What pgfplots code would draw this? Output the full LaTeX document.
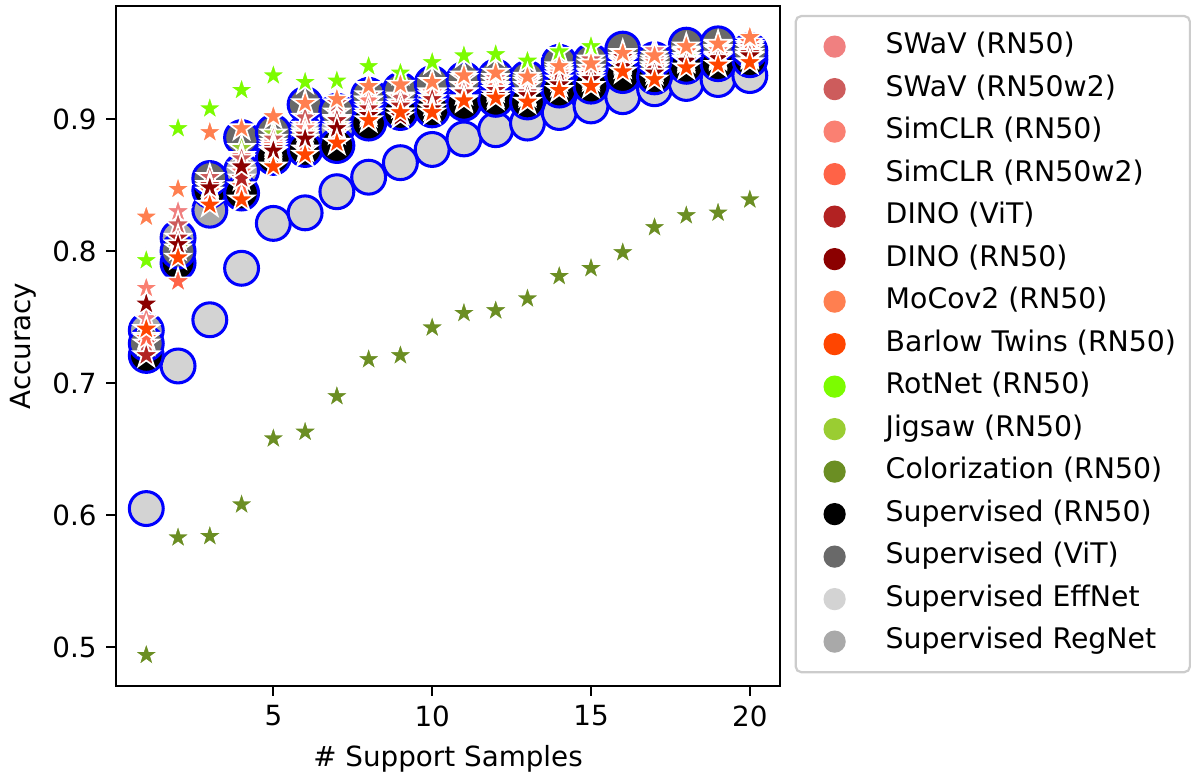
\documentclass[border=0pt]{standalone}
\usepackage{fontspec}
\setmainfont{DejaVu Sans}
\usepackage{pgfplots}
\usepackage{pgfplotstable}
\pgfplotsset{compat=1.18}

\definecolor{lightcoral}{RGB}{240,128,128}
\definecolor{indianred}{RGB}{205,92,92}
\definecolor{salmon}{RGB}{250,128,114}
\definecolor{tomato}{RGB}{255,99,71}
\definecolor{firebrick}{RGB}{178,34,34}
\definecolor{darkred}{RGB}{139,0,0}
\definecolor{coral}{RGB}{255,127,80}
\definecolor{orangered}{RGB}{255,69,0}
\definecolor{lawngreen}{RGB}{124,252,0}
\definecolor{yellowgreen}{RGB}{154,205,50}
\definecolor{olivedrab}{RGB}{107,142,35}
\definecolor{dimgray}{RGB}{105,105,105}
\definecolor{lgray}{RGB}{211,211,211}
\definecolor{dgray}{RGB}{169,169,169}
\definecolor{legframe}{RGB}{204,204,204}

\newdimen\starout
\newdimen\starin
\pgfdeclareplotmark{fstar}{%
  \starout=\pgfplotmarksize
  \starin=\pgfplotmarksize
  \starin=0.382\starin
  \pgfpathmoveto{\pgfpointpolar{90}{\starout}}%
  \pgfpathlineto{\pgfpointpolar{126}{\starin}}%
  \pgfpathlineto{\pgfpointpolar{162}{\starout}}%
  \pgfpathlineto{\pgfpointpolar{198}{\starin}}%
  \pgfpathlineto{\pgfpointpolar{234}{\starout}}%
  \pgfpathlineto{\pgfpointpolar{270}{\starin}}%
  \pgfpathlineto{\pgfpointpolar{306}{\starout}}%
  \pgfpathlineto{\pgfpointpolar{342}{\starin}}%
  \pgfpathlineto{\pgfpointpolar{18}{\starout}}%
  \pgfpathlineto{\pgfpointpolar{54}{\starin}}%
  \pgfpathclose
  \pgfusepathqfillstroke
}

% supervised (circles)
\pgfplotstableread{
x  rn50   vit    eff    reg
1  0.721  0.730  0.605  0.740
2  0.791  0.800  0.713  0.810
3  0.846  0.855  0.748  0.831
4  0.844  0.886  0.787  0.861
5  0.871  0.890  0.821  0.878
6  0.877  0.911  0.829  0.890
7  0.880  0.906  0.845  0.893
8  0.897  0.918  0.856  0.905
9  0.905  0.922  0.867  0.912
10 0.907  0.927  0.877  0.915
11 0.912  0.930  0.885  0.920
12 0.915  0.932  0.892  0.922
13 0.913  0.931  0.897  0.922
14 0.922  0.943  0.905  0.932
15 0.925  0.944  0.910  0.935
16 0.933  0.953  0.917  0.942
17 0.932  0.945  0.923  0.940
18 0.940  0.956  0.927  0.947
19 0.942  0.957  0.930  0.948
20 0.945  0.952  0.933  0.948
}\supTable

% self-supervised (stars)
\pgfplotstableread{
x  swav   swavw  simclr simclrw dinovit dinorn moco   barlow rotnet jigsaw color
1  0.749  0.730  0.772  0.734   0.721   0.760  0.826  0.741  0.793  0.735  0.494
2  0.830  0.820  0.805  0.777   0.810   0.805  0.847  0.795  0.893  0.802  0.583
3  0.850  0.856  0.848  0.845   0.850   0.848  0.890  0.835  0.908  0.845  0.584
4  0.872  0.870  0.860  0.849   0.855   0.864  0.893  0.839  0.922  0.878  0.608
5  0.882  0.885  0.880  0.875   0.878   0.876  0.902  0.864  0.933  0.889  0.658
6  0.895  0.901  0.893  0.877   0.888   0.885  0.912  0.873  0.928  0.890  0.663
7  0.905  0.912  0.900  0.890   0.899   0.893  0.915  0.882  0.929  0.895  0.690
8  0.914  0.918  0.914  0.905   0.908   0.903  0.925  0.899  0.940  0.910  0.718
9  0.912  0.916  0.910  0.905   0.910   0.902  0.926  0.905  0.935  0.917  0.721
10 0.918  0.920  0.920  0.912   0.915   0.908  0.928  0.905  0.943  0.915  0.742
11 0.925  0.931  0.925  0.920   0.920   0.915  0.933  0.914  0.948  0.920  0.753
12 0.931  0.928  0.925  0.922   0.922   0.918  0.935  0.916  0.949  0.924  0.755
13 0.928  0.930  0.925  0.920   0.920   0.918  0.932  0.913  0.944  0.920  0.764
14 0.936  0.938  0.935  0.930   0.933   0.926  0.940  0.922  0.951  0.933  0.781
15 0.932  0.945  0.938  0.935   0.934   0.930  0.942  0.925  0.955  0.935  0.787
16 0.944  0.943  0.945  0.940   0.947   0.940  0.950  0.936  0.945  0.940  0.799
17 0.952  0.945  0.943  0.940   0.938   0.935  0.948  0.930  0.940  0.938  0.818
18 0.950  0.952  0.951  0.951   0.945   0.944  0.955  0.939  0.947  0.945  0.827
19 0.952  0.953  0.952  0.956   0.948   0.946  0.957  0.941  0.948  0.947  0.829
20 0.956  0.955  0.953  0.958   0.950   0.948  0.962  0.943  0.948  0.947  0.839
}\sslTable

\newcommand{\legc}[1]{\addlegendimage{legend image code/.code={\path (0pt,0pt) (26.6pt,0pt); \fill[#1] (10.6pt,0pt) circle (3.6pt);}}}

\begin{document}
\begin{tikzpicture}
\begin{axis}[
  scale only axis,
  width=239pt, height=244.8pt,
  xmin=0.05, xmax=20.95,
  ymin=0.4705, ymax=0.9856,
  xtick={5,10,15,20},
  ytick={0.5,0.6,0.7,0.8,0.9},
  tick align=outside,
  major tick length=3.5pt,
  tick style={line width=0.8pt, black},
  axis line style={line width=0.8pt},
  xtick pos=bottom, ytick pos=left,
  ticklabel style={font=\fontsize{10}{12}\selectfont},
  yticklabel style={/pgf/number format/.cd, fixed, fixed zerofill, precision=1, assume math mode=true},
  xticklabel style={/pgf/number format/assume math mode=true},
  xlabel={\# Support Samples},
  ylabel={Accuracy},
  ylabel style={yshift=-1pt},
  label style={font=\fontsize{10}{12}\selectfont},
  legend cell align=left,
  legend style={
    at={(1.022,0.987)}, anchor=north west,
    draw=legframe, line width=0.8pt, rounded corners=2pt,
    inner xsep=3pt, inner ysep=4pt,
    row sep=1.3pt,
    font=\fontsize{10.2}{12}\selectfont,
    nodes={inner sep=2pt, text height=7.5pt, text depth=2.5pt},
  },
]
\legc{lightcoral}\addlegendentry{SWaV (RN50)}
\legc{indianred}\addlegendentry{SWaV (RN50w2)}
\legc{salmon}\addlegendentry{SimCLR (RN50)}
\legc{tomato}\addlegendentry{SimCLR (RN50w2)}
\legc{firebrick}\addlegendentry{DINO (ViT)}
\legc{darkred}\addlegendentry{DINO (RN50)}
\legc{coral}\addlegendentry{MoCov2 (RN50)}
\legc{orangered}\addlegendentry{Barlow Twins (RN50)}
\legc{lawngreen}\addlegendentry{RotNet (RN50)}
\legc{yellowgreen}\addlegendentry{Jigsaw (RN50)}
\legc{olivedrab}\addlegendentry{Colorization (RN50)}
\legc{black}\addlegendentry{Supervised (RN50)}
\legc{dimgray}\addlegendentry{Supervised (ViT)}
\legc{lgray}\addlegendentry{Supervised EffNet}
\legc{dgray}\addlegendentry{Supervised RegNet}

\pgfplotsset{
  circ/.style={only marks, forget plot, mark=*, mark size=6.1pt, mark options={draw=blue, line width=1.1pt, fill=#1}},
  strm/.style={only marks, forget plot, mark=fstar, mark size=4.8pt, mark options={draw=white, line width=0.6pt, fill=#1}},
}
\addplot[circ=lgray] table[x=x, y=eff] {\supTable};
\addplot[circ=dgray] table[x=x, y=reg] {\supTable};
\addplot[circ=black] table[x=x, y=rn50] {\supTable};
\addplot[circ=dimgray] table[x=x, y=vit] {\supTable};

\addplot[strm=lawngreen] table[x=x, y=rotnet] {\sslTable};
\addplot[strm=yellowgreen] table[x=x, y=jigsaw] {\sslTable};
\addplot[strm=olivedrab] table[x=x, y=color] {\sslTable};
\addplot[strm=lightcoral] table[x=x, y=swav] {\sslTable};
\addplot[strm=indianred] table[x=x, y=swavw] {\sslTable};
\addplot[strm=salmon] table[x=x, y=simclr] {\sslTable};
\addplot[strm=tomato] table[x=x, y=simclrw] {\sslTable};
\addplot[strm=firebrick] table[x=x, y=dinovit] {\sslTable};
\addplot[strm=darkred] table[x=x, y=dinorn] {\sslTable};
\addplot[strm=coral] table[x=x, y=moco] {\sslTable};
\addplot[strm=orangered] table[x=x, y=barlow] {\sslTable};
\end{axis}
\path[use as bounding box] (-41.8pt,-32.4pt) rectangle (386.9pt,247pt);
\end{tikzpicture}
\end{document}
